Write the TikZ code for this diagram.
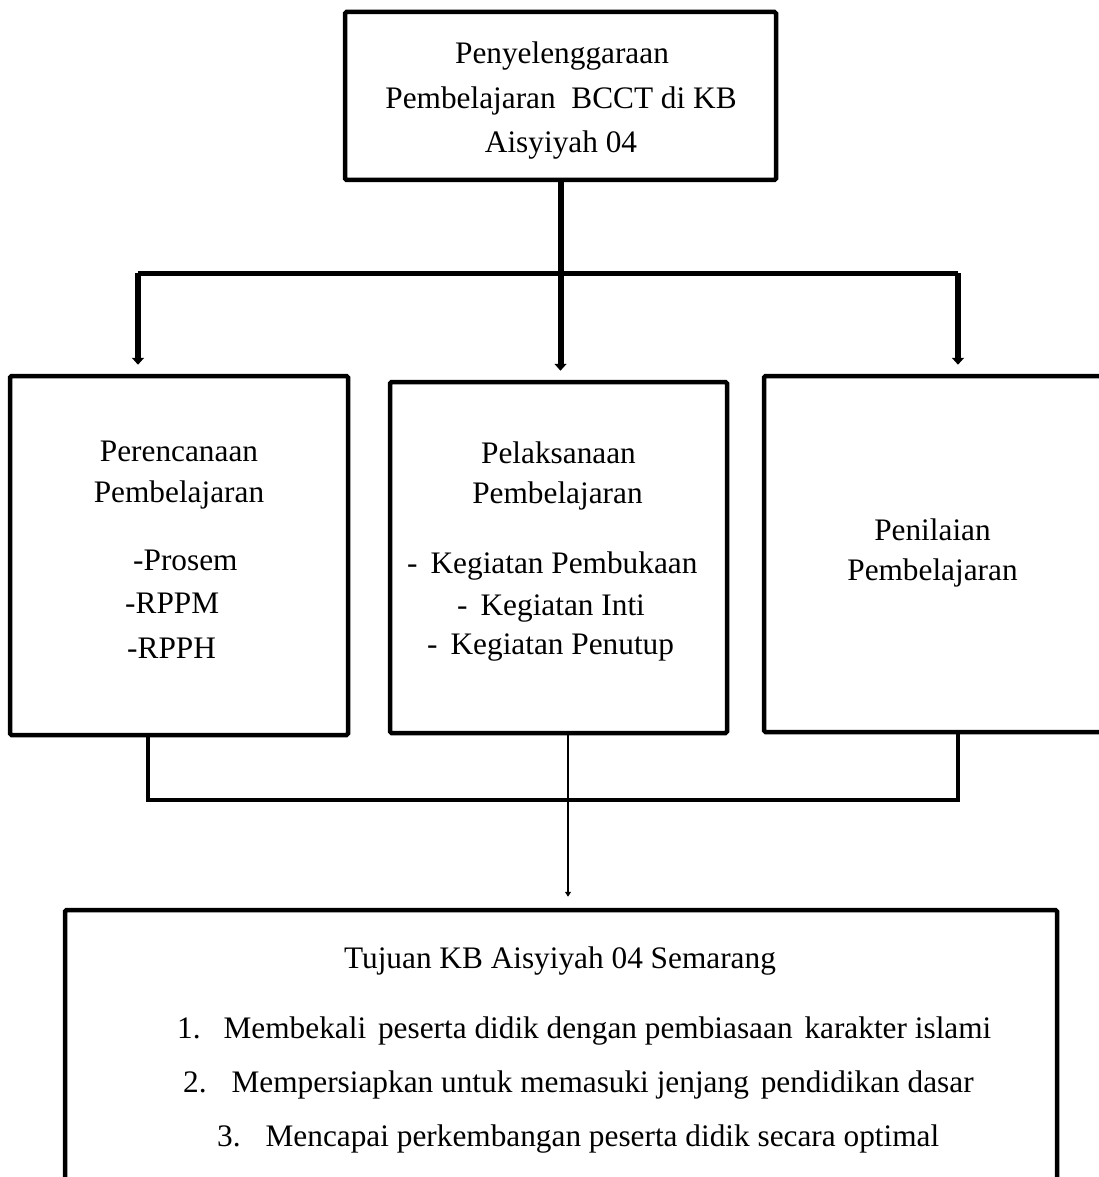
\documentclass[tikz,border=0pt]{standalone}
\usepackage{fontspec}
\setmainfont{Liberation Serif}
\usetikzlibrary{arrows.meta}
\begin{document}
\begin{tikzpicture}[x=1pt,y=-1pt,
  box/.style={draw,line width=4.5pt,rounded corners=1.5pt,inner sep=0pt},
  txt/.style={font=\fontsize{31.3}{44}\selectfont,inner sep=0pt,align=center},
  ctr/.style={txt,anchor=base},
  lft/.style={txt,anchor=base west},
  hbar/.style={line width=5pt},
  vconn/.style={line width=6pt,-{Triangle[length=7pt,width=12pt]},shorten >=9pt},
  lowbar/.style={line width=4.5pt},
  thinarrow/.style={line width=2.5pt,-{Triangle[length=5pt,width=6pt]},shorten >=11pt}]
\useasboundingbox (0,0) rectangle (1098,1177);
% boxes
\node[box,minimum width=431pt,minimum height=168pt] (top) at (560.5,96) {};
\node[box,minimum width=338pt,minimum height=359pt] (left) at (179,555.5) {};
\node[box,minimum width=337pt,minimum height=351pt] (mid) at (558.5,557.5) {};
\node[box,minimum width=346pt,minimum height=356pt] (right) at (937,554) {};
\node[box,minimum width=992pt,minimum height=290pt] (bottom) at (561,1055) {};
% top texts
\node[ctr] (t1) at (562,64) {Penyelenggaraan};
\node[ctr] (t2) at (561,109) {Pembelajaran\ \ BCCT di KB};
\node[ctr] (t3) at (561,153) {Aisyiyah 04};
% left texts
\node[ctr] (l1) at (179,461) {Perencanaan};
\node[ctr] (l1b) at (179,502) {Pembelajaran};
\node[lft] (l2) at (133,570) {-Prosem};
\node[lft] (l3) at (125,613) {-RPPM};
\node[lft] (l4) at (127,658) {-RPPH};
% middle texts
\node[ctr] (m1) at (558.5,463) {Pelaksanaan};
\node[ctr] (m1b) at (557.5,503) {Pembelajaran};
\node[lft] (m2) at (407,573) {-\hspace{13pt}Kegiatan Pembukaan};
\node[lft] (m3) at (457,615) {-\hspace{13pt}Kegiatan Inti};
\node[lft] (m4) at (427,654) {-\hspace{13pt}Kegiatan Penutup};
% right texts
\node[ctr] (r1) at (932.5,540) {Penilaian};
\node[ctr] (r1b) at (932.5,580) {Pembelajaran};
% bottom texts
\node[ctr] (b0) at (560,968) {Tujuan KB Aisyiyah 04 Semarang};
\node[lft] (b1) at (177,1038) {1.\hspace{23pt}Membekali\hspace{4pt} peserta didik dengan pembiasaan\hspace{4pt} karakter islami};
\node[lft] (b2) at (183,1092) {2.\hspace{25pt}Mempersiapkan untuk memasuki jenjang\hspace{4pt} pendidikan dasar};
\node[lft] (b3) at (217,1146) {3.\hspace{25pt}Mencapai perkembangan peserta didik secara optimal};
% upper connectors
\coordinate (barL) at (138,273);
\coordinate (barR) at (958,273);
\draw[hbar] (barL) -- (barR);
\draw[vconn] (top.south) -- (top.south |- mid.north);
\draw[vconn] (barL) -- (barL |- left.north);
\draw[vconn] (barR) -- (barR |- right.north);
% lower connectors
\coordinate (lowL) at (148,800);
\coordinate (lowR) at (958,800);
\draw[lowbar] (lowL |- left.south) -- (lowL) -- (lowR) -- (lowR |- right.south);
\draw[thinarrow] ([xshift=9.5pt]mid.south) -- ([xshift=9.5pt]mid.south |- bottom.north);
\end{tikzpicture}
\end{document}
